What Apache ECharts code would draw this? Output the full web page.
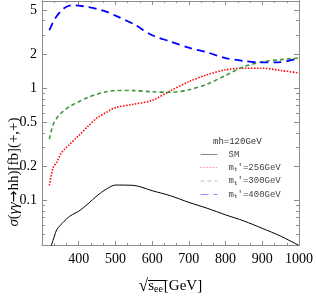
<!DOCTYPE html>
<html><head><meta charset="utf-8">
<script src="https://cdn.jsdelivr.net/npm/echarts@6/dist/echarts.min.js"></script>
<style>html,body{margin:0;padding:0;background:#fff}#c{width:316px;height:300px}</style>
</head><body><div id="c"></div>
<script>
// sqrt(s_ee) in GeV
const energies = [320,330,340,350,360,375,390,400,425,450,475,500,550,600,650,700,750,800,850,900,950,1000];
// sigma in fb
const sm     = [0.035,0.044,0.0546,0.060,0.065,0.072,0.077,0.080,0.093,0.110,0.126,0.137,0.136,0.122,0.110,0.096,0.085,0.0743,0.0655,0.0563,0.048,0.0396];
const mt256  = [0.136,0.195,0.218,0.256,0.283,0.315,0.352,0.377,0.457,0.544,0.61,0.672,0.72,0.78,0.95,1.145,1.32,1.46,1.51,1.51,1.44,1.37];
const mt300  = [0.352,0.47,0.54,0.593,0.632,0.688,0.729,0.758,0.83,0.885,0.931,0.956,0.953,0.93,0.92,0.97,1.09,1.30,1.56,1.72,1.80,1.86];
const mt400  = [3.29,3.87,4.38,4.82,5.16,5.45,5.49,5.45,5.31,5.1,4.82,4.44,3.73,2.97,2.61,2.30,2.09,1.86,1.75,1.70,1.71,1.86];
const seriesNames = ['SM', "mt'=256GeV", "mt'=300GeV", "mt'=400GeV"];
const xTickLabels = [400,500,600,700,800,900,1000];
const yTickLabels = [0.1,0.2,0.5,1,2,5];
const yMinorTicks = [0.05,0.06,0.07,0.08,0.09,0.3,0.4,0.6,0.7,0.8,0.9,3,4];
const yMin = 0.04, yMax = 6;

const L = v => Math.log10(v);
const pts = arr => energies.map((e,i)=>[e, L(arr[i])]);
const frame = '#8c8c8c';
const serif = 'Liberation Serif';

function yAx(pos, major, labels){
  return {
    type:'value', position:pos, min:L(yMin), max:L(yMax),
    axisLine:{show:true, lineStyle:{color:frame, width:1}},
    splitLine:{show:false},
    axisTick:{show:true, inside:true, length: major?5:3, lineStyle:{color:frame},
      customValues:(major?yTickLabels:yMinorTicks).map(L)},
    axisLabel:{show:labels, customValues:yTickLabels.map(L), margin:5,
      fontFamily:serif, fontSize:14, color:'#000',
      formatter:v=>String(parseFloat(Math.pow(10,v).toPrecision(2)))}
  };
}
function xAx(pos, labels){
  return {
    type:'value', position:pos, min:300, max:1000, interval:100,
    axisLine:{show:true, onZero:false, lineStyle:{color:frame, width:1}},
    splitLine:{show:false},
    axisTick:{show:true, inside:true, length:4, lineStyle:{color:frame}},
    minorTick:{show:true, splitNumber:3, length:2, lineStyle:{color:frame}},
    axisLabel:{show:labels, showMinLabel:false, margin:7, fontFamily:serif, fontSize:14, color:'#000',
      formatter:v=>String(v)},
    name: labels ? '{r|√}{s|s}{e|ee}{g|[GeV]}' : '',
    nameLocation:'middle', nameGap:33,
    nameTextStyle:{fontFamily:serif, color:'#000', rich:{
      r:{fontFamily:serif,fontSize:17,color:'#000'},
      s:{fontFamily:serif,fontSize:15,color:'#000'},
      e:{fontFamily:serif,fontSize:10,color:'#000',padding:[6,1,0,0]},
      g:{fontFamily:serif,fontSize:15,color:'#000'}}}
  };
}

const chart = echarts.init(document.getElementById('c'));
chart.setOption({
  animation:false,
  grid:{left:42, right:14, top:1, bottom:41},
  xAxis:[xAx('bottom',true), xAx('top',false)],
  yAxis:[yAx('left',true,true), yAx('left',false,false), yAx('right',true,false), yAx('right',false,false)],
  title:{text:'mh=120GeV', left:213, top:137, padding:0,
    textStyle:{fontFamily:'Liberation Mono', fontSize:9, fontWeight:'normal', color:'#333'}},
  legend:{orient:'vertical', left:200, top:150, padding:0, itemWidth:17, itemHeight:8, itemGap:4,
    data:seriesNames,
    formatter:n=> n==='SM' ? '{p|SM}' : '{m|m}{t|t}{p|' + n.slice(2) + '}',
    textStyle:{fontFamily:'Liberation Mono', fontSize:9, color:'#444', padding:[0,0,0,6],
      rich:{m:{fontFamily:'Liberation Mono',fontSize:9,color:'#444'},
            t:{fontFamily:'Liberation Mono',fontSize:6,color:'#444',padding:[4,0,0,0]},
            p:{fontFamily:'Liberation Mono',fontSize:9,color:'#444'}}},
    itemStyle:{opacity:0, borderWidth:0},
    lineStyle:{width:1.1, opacity:0.45}},
  graphic:[
    {type:'text', x:14, y:172, rotation:Math.PI/2,
      style:{text:'{i|σ}{n|(}{i|γγ}{a|→}{n|hh)[fb](+,+)}', textAlign:'center', textVerticalAlign:'middle',
        rich:{i:{fontFamily:serif,fontStyle:'italic',fontSize:15,fill:'#000'},
              a:{fontFamily:'DejaVu Sans',fontSize:14,fill:'#000'},
              n:{fontFamily:serif,fontSize:15,fill:'#000'}}}},
    {type:'line', shape:{x1:148, y1:280.5, x2:165, y2:280.5}, style:{stroke:'#000', lineWidth:1}}
  ],
  series:[
    {name:seriesNames[0], type:'line', data:pts(sm), smooth:0.3, showSymbol:false, symbol:'none',
      lineStyle:{color:'#000', width:1}, itemStyle:{color:'#000'}},
    {name:seriesNames[1], type:'line', data:pts(mt256), smooth:0.3, showSymbol:false, symbol:'none',
      lineStyle:{color:'#ff0000', width:1.6, type:[1.5,1.5]}, itemStyle:{color:'#ff0000'}},
    {name:seriesNames[2], type:'line', data:pts(mt300), smooth:0.3, showSymbol:false, symbol:'none',
      lineStyle:{color:'#3f963f', width:1.6, type:[4,3]}, itemStyle:{color:'#3f963f'}},
    {name:seriesNames[3], type:'line', data:pts(mt400), smooth:0.3, showSymbol:false, symbol:'none',
      lineStyle:{color:'#0000ff', width:1.8, type:[8,5]}, itemStyle:{color:'#0000ff'}}
  ]
});
</script></body></html>
